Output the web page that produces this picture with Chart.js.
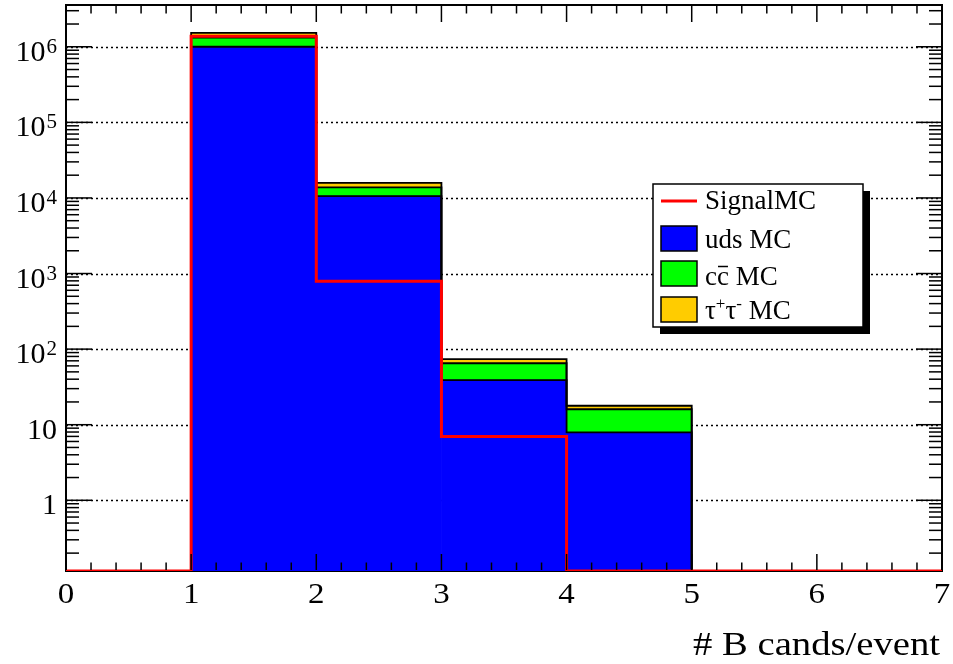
<!DOCTYPE html>
<html>
<head>
<meta charset="utf-8">
<script src="https://cdn.jsdelivr.net/npm/chart.js@4.4.0/dist/chart.umd.min.js"></script>
<style>
    html, body { margin: 0; padding: 0; background: #ffffff; }
    #wrap { width: 953px; height: 664px; position: relative; }
</style>
</head>
<body>
<div id="wrap"><canvas id="b_cands_per_event"></canvas></div>
<script>
// bins of "# B cands/event", one entry per bin [0,1), [1,2) ... [6,7)
const binEdges = [0, 1, 2, 3, 4, 5, 6, 7];
const udsMC = [0, 1.0e6, 1.06e4, 39, 7.9, 0, 0];
const ccbarMC = [0, 3.2e5, 3.2e3, 26, 8.1, 0, 0];
const tautauMC = [0, 2.1e5, 2.0e3, 8.5, 1.8, 0, 0];
const signalMC = [0, 1.38e6, 790, 7, 0, 0, 0];

const xTickLabels = ['0', '1', '2', '3', '4', '5', '6', '7'];
const yTickExponents = [0, 1, 2, 3, 4, 5, 6];

const Y_MIN = 0.116;
const Y_MAX = 3.57e6;
const SERIF = '"Liberation Serif", "DejaVu Serif", serif';

function binCenters() {
    return binEdges.slice(0, -1).map(function (e, i) { return (e + binEdges[i + 1]) / 2; });
}

function histPoints(values) {
    return binCenters().map(function (x, i) { return {x: x, y: values[i]}; });
}

function addUp() {
    const lists = Array.prototype.slice.call(arguments);
    return lists[0].map(function (v, i) {
        return lists.reduce(function (s, l) { return s + l[i]; }, 0);
    });
}

// outline of a histogram: each value is held from the low edge of its bin to the next edge
function stepPoints(values) {
    const pts = binEdges.slice(0, -1).map(function (x, i) {
        return {x: x, y: values[i] > 0 ? values[i] : Y_MIN};
    });
    pts.push({x: binEdges[binEdges.length - 1], y: pts[pts.length - 1].y});
    return pts;
}

function outline(values, key) {
    return {
        type: 'line',
        data: stepPoints(values),
        stepped: true,
        borderColor: '#000000',
        borderWidth: 1.8,
        pointRadius: 0,
        fill: false,
        stack: key,
        order: 1
    };
}

function filled(label, values, color) {
    return {
        label: label,
        data: histPoints(values),
        backgroundColor: color,
        borderWidth: 0,
        stack: 'background',
        order: 2
    };
}

function drawLine(ctx, x1, y1, x2, y2) {
    ctx.beginPath();
    ctx.moveTo(x1, y1);
    ctx.lineTo(x2, y2);
    ctx.stroke();
}

// text stretched sideways, the ROOT fonts come out wider than Liberation Serif
function fillWide(ctx, text, x, y, stretch, align) {
    const w = ctx.measureText(text).width * stretch;
    let left = x;
    if (align === 'right') left = x - w;
    if (align === 'center') left = x - w / 2;
    ctx.save();
    ctx.textAlign = 'left';
    ctx.translate(left, y);
    ctx.scale(stretch, 1);
    ctx.fillText(text, 0, 0);
    ctx.restore();
    return w;
}

function drawYLabel(ctx, exp, xRight, y) {
    ctx.textBaseline = 'alphabetic';
    ctx.font = '30px ' + SERIF;
    if (exp < 2) {
        fillWide(ctx, exp === 0 ? '1' : '10', xRight, y + 14, 1.0, 'right');
        return;
    }
    ctx.font = '21px ' + SERIF;
    const ws = fillWide(ctx, String(exp), xRight, y + 6, 1.0, 'right');
    ctx.font = '30px ' + SERIF;
    fillWide(ctx, '10', xRight - ws - 1, y + 14, 1.0, 'right');
}

function drawLegend(ctx) {
    const bx = 653, by = 184, bw = 210, bh = 143;
    ctx.fillStyle = '#000000';
    ctx.fillRect(bx + 7, by + 7, bw, bh);
    ctx.fillStyle = '#ffffff';
    ctx.fillRect(bx, by, bw, bh);
    ctx.strokeStyle = '#000000';
    ctx.lineWidth = 1.5;
    ctx.strokeRect(bx, by, bw, bh);

    ctx.strokeStyle = '#ff0000';
    ctx.lineWidth = 3;
    drawLine(ctx, 661, 201, 697, 201);

    const swatches = [['#0000ff', 226], ['#00ff00', 261], ['#ffcc00', 297]];
    swatches.forEach(function (s) {
        ctx.fillStyle = s[0];
        ctx.fillRect(661, s[1], 36, 25);
        ctx.strokeStyle = '#000000';
        ctx.lineWidth = 1.5;
        ctx.strokeRect(661, s[1], 36, 25);
    });

    const tx = 705;
    ctx.fillStyle = '#000000';
    ctx.textAlign = 'left';
    ctx.textBaseline = 'alphabetic';
    ctx.font = '27px ' + SERIF;
    ctx.fillText('SignalMC', tx, 209);
    ctx.fillText('uds MC', tx, 248);

    // c c-bar MC
    const wc = ctx.measureText('c').width;
    ctx.fillText('c', tx, 285);
    ctx.fillText('c', tx + wc, 285);
    ctx.fillText(' MC', tx + 2 * wc, 285);
    ctx.lineWidth = 1.5;
    ctx.strokeStyle = '#000000';
    drawLine(ctx, tx + wc + 1, 266.5, tx + 2 * wc - 1, 266.5);

    // tau+ tau- MC
    let x = tx;
    const wt = ctx.measureText('\u03c4').width;
    ctx.fillText('\u03c4', x, 319);
    x += wt;
    ctx.font = '17px ' + SERIF;
    ctx.fillText('+', x, 309);
    x += ctx.measureText('+').width;
    ctx.font = '27px ' + SERIF;
    ctx.fillText('\u03c4', x, 319);
    x += wt;
    ctx.font = '17px ' + SERIF;
    ctx.fillText('-', x, 309);
    x += ctx.measureText('-').width;
    ctx.font = '27px ' + SERIF;
    ctx.fillText(' MC', x, 319);
}

const rootFrame = {
    id: 'rootFrame',
    beforeDatasetsDraw: function (chart) {
        const ctx = chart.ctx, area = chart.chartArea, yScale = chart.scales.y;
        ctx.save();
        ctx.strokeStyle = '#000000';
        ctx.lineWidth = 1.3;
        ctx.setLineDash([2, 3]);
        yTickExponents.forEach(function (e) {
            const y = Math.round(yScale.getPixelForValue(Math.pow(10, e))) + 0.5;
            drawLine(ctx, area.left, y, area.right, y);
        });
        ctx.setLineDash([]);
        ctx.lineWidth = 2;
        ctx.strokeRect(area.left, area.top, area.right - area.left, area.bottom - area.top);
        ctx.restore();
    },
    afterDatasetsDraw: function (chart) {
        const ctx = chart.ctx, area = chart.chartArea;
        const xScale = chart.scales.x, yScale = chart.scales.y;
        ctx.save();
        ctx.strokeStyle = '#000000';
        ctx.lineWidth = 1.5;

        // x ticks, bottom and top, major every 1, minor every 0.2
        for (let i = 0; i <= 35; i++) {
            const px = xScale.getPixelForValue(i / 5);
            const len = i % 5 === 0 ? 17 : 8.5;
            drawLine(ctx, px, area.bottom - 1, px, area.bottom - len);
            drawLine(ctx, px, area.top, px, area.top + len);
        }

        // y ticks on a log axis, left and right
        for (let e = -1; e <= 6; e++) {
            for (let m = 1; m <= 9; m++) {
                const v = m * Math.pow(10, e);
                if (v < Y_MIN || v > Y_MAX) continue;
                const py = yScale.getPixelForValue(v);
                const len = m === 1 ? 26 : 13;
                drawLine(ctx, area.left, py, area.left + len, py);
                drawLine(ctx, area.right, py, area.right - len, py);
            }
        }

        ctx.lineWidth = 2;
        drawLine(ctx, area.left, area.top, area.left, area.bottom - 1);
        drawLine(ctx, area.right, area.top, area.right, area.bottom - 1);
        drawLine(ctx, area.left, area.top, area.right, area.top);

        ctx.fillStyle = '#000000';
        yTickExponents.forEach(function (e) {
            drawYLabel(ctx, e, area.left - 9, yScale.getPixelForValue(Math.pow(10, e)));
        });

        ctx.font = '30px ' + SERIF;
        ctx.textBaseline = 'alphabetic';
        xTickLabels.forEach(function (label, i) {
            fillWide(ctx, label, xScale.getPixelForValue(binEdges[i]), 603, 1.1, 'center');
        });

        ctx.font = '34px ' + SERIF;
        const titleWidth = ctx.measureText('# B cands/event').width;
        fillWide(ctx, '# B cands/event', area.right - 2, 655, 247 / titleWidth, 'right');

        drawLegend(ctx);
        ctx.restore();
    }
};

function renderBCandsPerEvent() {
    const ctx = document.getElementById('b_cands_per_event').getContext('2d');
    const bCandsChart = new Chart(ctx, {
        type: 'bar',
        data: {
            datasets: [{
                type: 'line',
                label: 'SignalMC',
                data: stepPoints(signalMC),
                stepped: true,
                borderColor: '#ff0000',
                borderWidth: 3,
                pointRadius: 0,
                fill: false,
                stack: 'signal',
                order: 0
            },
            outline(udsMC, 'outline_uds'),
            outline(addUp(udsMC, ccbarMC), 'outline_cc'),
            outline(addUp(udsMC, ccbarMC, tautauMC), 'outline_tau'),
            filled('uds MC', udsMC, '#0000ff'),
            filled('c cbar MC', ccbarMC, '#00ff00'),
            filled('tau+ tau- MC', tautauMC, '#ffcc00')]
        },
        options: {
            responsive: true,
            maintainAspectRatio: false,
            animation: false,
            devicePixelRatio: 1,
            barPercentage: 1.0,
            categoryPercentage: 1.0,
            layout: {
                padding: {left: 66, top: 5, right: 11, bottom: 93}
            },
            scales: {
                x: {type: 'linear', min: 0, max: 7, offset: false, stacked: true, display: false},
                y: {type: 'logarithmic', min: Y_MIN, max: Y_MAX, stacked: true, display: false}
            },
            plugins: {
                legend: {display: false},
                tooltip: {enabled: false}
            }
        },
        plugins: [rootFrame]
    });
}

window.onload = function () {
    renderBCandsPerEvent();
}
</script>
</body>
</html>
